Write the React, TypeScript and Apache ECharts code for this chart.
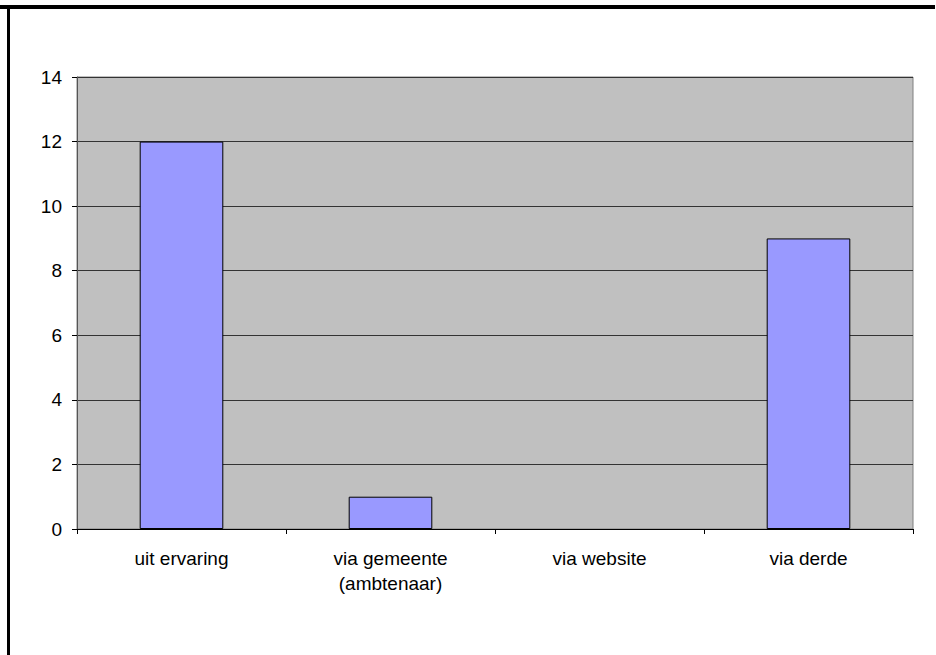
import React, { useEffect, useRef } from "react";
import * as echarts from "echarts";

const categories = ["uit ervaring", "via gemeente\n(ambtenaar)", "via website", "via derde"];
const values = [12, 1, 0, 9];
const yMin = 0;
const yMax = 14;
const yInterval = 2;

export default function App() {
  const ref = useRef<HTMLDivElement>(null);
  useEffect(() => {
    if (!ref.current) return;
    const chart = echarts.init(ref.current, null, { renderer: "svg" });
    chart.setOption({
      animation: false,
      backgroundColor: "#ffffff",
      textStyle: { fontFamily: "Liberation Sans, Arial, sans-serif" },
      grid: {
        left: 77,
        top: 77,
        right: 23,
        bottom: 126,
        show: true,
        backgroundColor: "#C0C0C0",
        borderColor: "#808080",
        borderWidth: 1,
      },
      xAxis: {
        type: "category",
        data: categories,
        axisLine: { show: true, lineStyle: { color: "#000", width: 1 } },
        axisTick: { show: true, length: 5, lineStyle: { color: "#000" } },
        axisLabel: {
          color: "#000",
          fontSize: 19,
          margin: 17,
          lineHeight: 25,
          fontFamily: "Liberation Sans, Arial, sans-serif",
        },
        splitLine: { show: false },
      },
      yAxis: {
        type: "value",
        min: yMin,
        max: yMax,
        interval: yInterval,
        axisLine: { show: true, lineStyle: { color: "#555", width: 1 } },
        axisTick: { show: true, length: 5, lineStyle: { color: "#000" } },
        axisLabel: {
          color: "#000",
          fontSize: 19,
          margin: 15,
          fontFamily: "Liberation Sans, Arial, sans-serif",
        },
        splitLine: { show: true, lineStyle: { color: "#333", width: 1 } },
      },
      series: [
        {
          type: "bar",
          data: values.map((v) =>
            v === 0 ? { value: v, itemStyle: { borderWidth: 0 } } : v
          ),
          barCategoryGap: "60%",
          itemStyle: { color: "#9999FF", borderColor: "#000", borderWidth: 1 },
        },
      ],
      graphic: [
        { type: "rect", shape: { x: 0, y: 5, width: 935, height: 4 }, style: { fill: "#000" } },
        { type: "rect", shape: { x: 7, y: 5, width: 3, height: 650 }, style: { fill: "#000" } },
      ],
    });
    return () => chart.dispose();
  }, []);
  return (
    <div
      ref={ref}
      style={{ position: "fixed", left: 0, top: 0, width: 936, height: 655 }}
    />
  );
}
